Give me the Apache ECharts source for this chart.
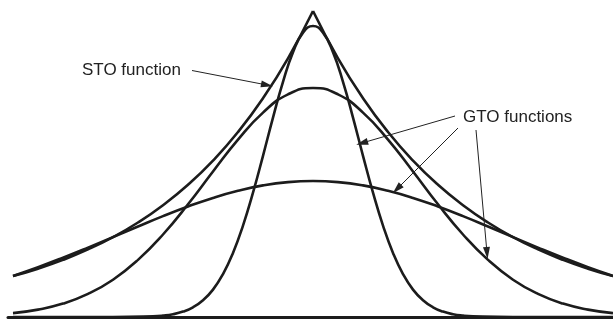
<!DOCTYPE html>
<html>
<head>
<meta charset="utf-8">
<script src="https://cdn.jsdelivr.net/npm/echarts@6/dist/echarts.min.js"></script>
<style>
  html, body { margin: 0; padding: 0; background: #fff; }
  #main { width: 613px; height: 320px; }
</style>
</head>
<body>
<div id="main"></div>
<script>
// distance from centre (right half, mirrored to the left)
var stoX = [0, 0.25, 0.5, 0.75, 1.0, 1.25, 1.5, 1.75, 2.0, 2.25, 2.5, 2.75, 3.0];
var stoY = [3.06, 2.587, 2.188, 1.850, 1.564, 1.322, 1.118, 0.945, 0.799, 0.676, 0.571, 0.483, 0.409];

var gtoX = [0, 0.25, 0.5, 0.75, 1.0, 1.25, 1.5, 1.75, 2.0, 2.25, 2.5, 2.75, 3.0];
var gtoMidY = [2.29, 2.226, 2.044, 1.774, 1.455, 1.127, 0.825, 0.571, 0.373, 0.231, 0.134, 0.074, 0.039];
var gtoWideY = [1.36, 1.349, 1.316, 1.262, 1.191, 1.105, 1.009, 0.905, 0.799, 0.694, 0.593, 0.498, 0.411];

var narrowX = [0, 0.1, 0.2, 0.3, 0.4, 0.5, 0.6, 0.7, 0.8, 0.9, 1.0, 1.1, 1.2, 1.3, 1.4, 1.5, 1.6, 2.0, 2.5, 3.0];
var narrowY = [2.91, 2.842, 2.648, 2.352, 1.994, 1.612, 1.243, 0.914, 0.641, 0.429, 0.274, 0.167, 0.097, 0.054, 0.028, 0.014, 0.007, 0, 0, 0];

// annotation arrows: [fromX, fromY, toX, toY] in data units
var stoArrow = [-1.21, 2.465, -0.46, 2.32];
var gtoArrows = [
    [1.42, 2.01, 0.49, 1.74],
    [1.45, 1.89, 0.84, 1.28],
    [1.63, 1.87, 1.74, 0.64]
];

function mirror(xs, ys) {
    var out = [];
    for (var i = xs.length - 1; i > 0; i--) out.push([-xs[i], ys[i]]);
    for (var j = 0; j < xs.length; j++) out.push([xs[j], ys[j]]);
    return out;
}

var curveStyle = { color: '#1c1c1c', width: 2.6 };

function curve(data) {
    return {
        type: 'line',
        data: data,
        smooth: true,
        showSymbol: false,
        silent: true,
        lineStyle: curveStyle
    };
}

var arrowLines = [stoArrow].concat(gtoArrows).map(function (a) {
    return [{ coord: [a[0], a[1]] }, { coord: [a[2], a[3]] }];
});

var chart = echarts.init(document.getElementById('main'));
chart.setOption({
    animation: false,
    grid: { left: 8, right: 0, top: 0, bottom: 3 },
    xAxis: {
        type: 'value',
        min: -3.05,
        max: 3.0,
        axisLine: { show: true, lineStyle: { color: '#1c1c1c', width: 3 } },
        axisTick: { show: false },
        axisLabel: { show: false },
        splitLine: { show: false }
    },
    yAxis: {
        type: 'value',
        min: 0,
        max: 3.17,
        show: false
    },
    graphic: [
        {
            type: 'text', left: 82, top: 62,
            style: { text: 'STO function', font: '17px "Liberation Sans", Arial, sans-serif', fill: '#222' }
        },
        {
            type: 'text', left: 463, top: 109,
            style: { text: 'GTO functions', font: '17px "Liberation Sans", Arial, sans-serif', fill: '#222' }
        }
    ],
    series: [
        curve(stoX.map(function (d, i) { return [-d, stoY[i]]; })),
        curve(stoX.map(function (d, i) { return [d, stoY[i]]; })),
        curve(mirror(narrowX, narrowY)),
        curve(mirror(gtoX, gtoMidY)),
        curve(mirror(gtoX, gtoWideY)),
        {
            type: 'line',
            data: [],
            silent: true,
            markLine: {
                silent: true,
                symbol: ['none', 'triangle'],
                symbolSize: [7, 12],
                label: { show: false },
                lineStyle: { color: '#222', width: 1, type: 'solid' },
                data: arrowLines
            }
        }
    ]
});
</script>
</body>
</html>
